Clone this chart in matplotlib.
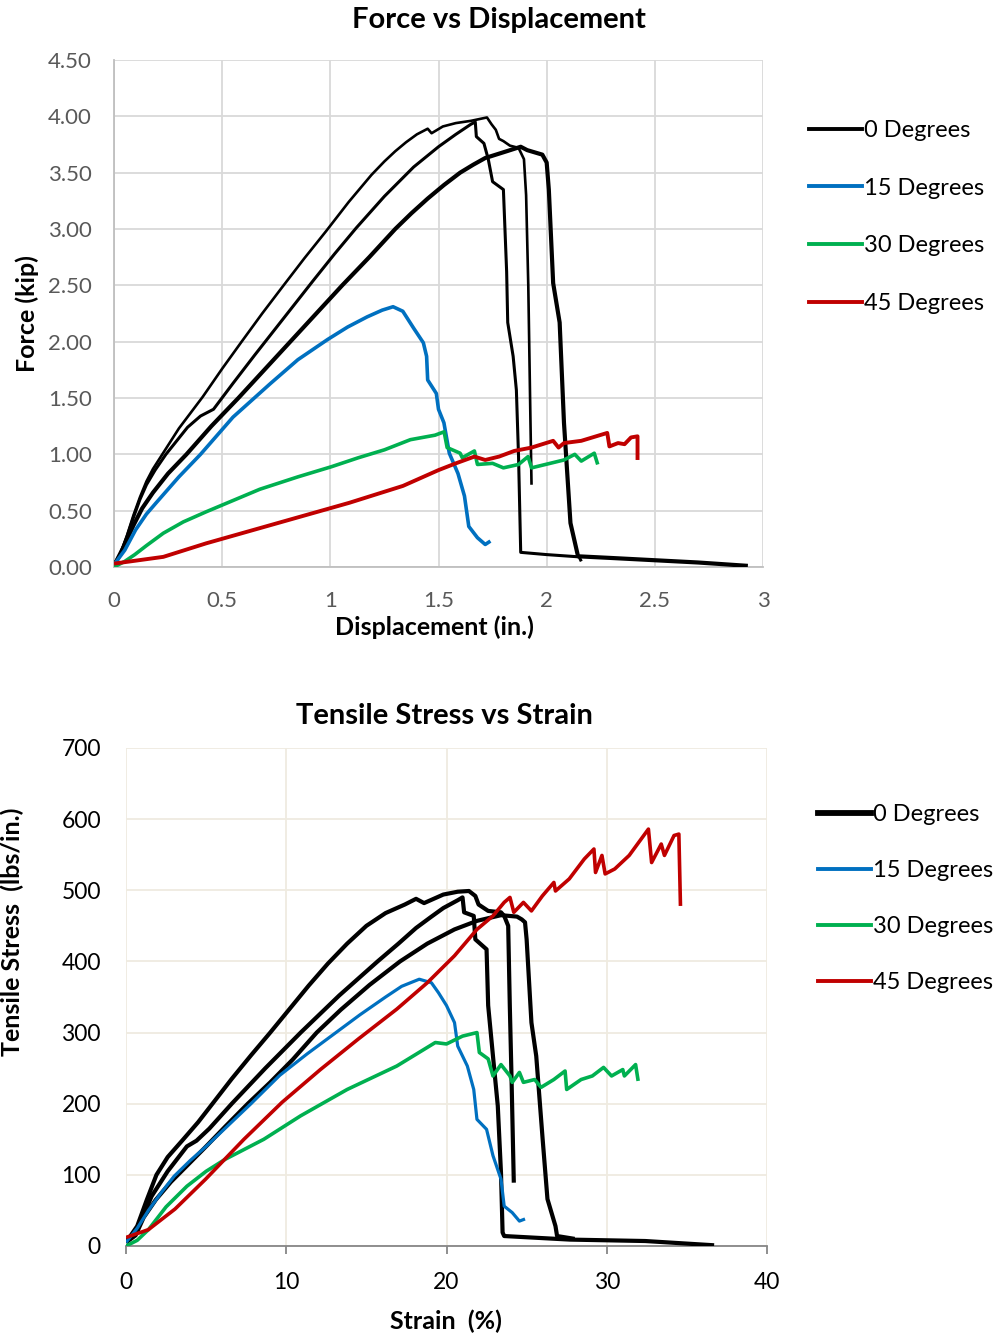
import matplotlib
matplotlib.use("Agg")
import matplotlib.pyplot as plt
from matplotlib.lines import Line2D

plt.rcParams['font.family'] = ['Lato', 'DejaVu Sans']

# ---------------- Force vs Displacement data ----------------
f0a_x = [0, 0.03, 0.06, 0.09, 0.12, 0.15, 0.18, 0.22, 0.30, 0.41, 0.50, 0.59, 0.685, 0.78, 0.88, 0.98, 1.085, 1.19, 1.25, 1.30, 1.35, 1.40, 1.45, 1.468, 1.52, 1.58, 1.65, 1.724,
         1.745, 1.765, 1.78, 1.80, 1.83, 1.87, 1.895, 1.905, 1.915, 1.925, 1.93]
f0a_y = [0.02, 0.12, 0.28, 0.46, 0.62, 0.76, 0.87, 0.99, 1.23, 1.51, 1.76, 2.00, 2.25, 2.49, 2.74, 2.98, 3.24, 3.48, 3.60, 3.69, 3.77, 3.84, 3.89, 3.85, 3.91, 3.94, 3.96, 3.99,
         3.93, 3.88, 3.80, 3.78, 3.74, 3.72, 3.62, 3.30, 2.50, 1.30, 0.73]
f0b_x = [0, 0.03, 0.06, 0.09, 0.12, 0.15, 0.19, 0.24, 0.29, 0.34, 0.40, 0.46, 0.55, 0.65, 0.74, 0.83, 0.92, 1.02, 1.12, 1.25, 1.385, 1.50, 1.58, 1.65, 1.67,
         1.675, 1.71, 1.73, 1.75, 1.80, 1.815, 1.82, 1.845, 1.86, 1.87, 1.88, 2.00, 2.15, 2.16]
f0b_y = [0.02, 0.12, 0.27, 0.44, 0.60, 0.73, 0.86, 1.00, 1.12, 1.24, 1.34, 1.40, 1.63, 1.88, 2.10, 2.32, 2.54, 2.78, 3.01, 3.29, 3.55, 3.73, 3.84, 3.93, 3.95,
         3.82, 3.76, 3.62, 3.42, 3.35, 2.62, 2.17, 1.87, 1.57, 0.98, 0.13, 0.11, 0.09, 0.05]
f0c_x = [0, 0.045, 0.09, 0.13, 0.18, 0.25, 0.335, 0.45, 0.575, 0.695, 0.815, 0.935, 1.055, 1.18, 1.30, 1.375, 1.45, 1.525, 1.60, 1.66, 1.716, 1.815, 1.88, 1.91, 1.98,
         2.00, 2.01, 2.03, 2.06, 2.08, 2.11, 2.145, 2.3, 2.5, 2.7, 2.93]
f0c_y = [0.01, 0.18, 0.37, 0.52, 0.66, 0.83, 1.00, 1.25, 1.50, 1.75, 2.00, 2.25, 2.50, 2.75, 3.00, 3.14, 3.27, 3.39, 3.50, 3.57, 3.63, 3.69, 3.73, 3.70, 3.66,
         3.59, 3.35, 2.52, 2.17, 1.28, 0.39, 0.095, 0.08, 0.06, 0.04, 0.01]
f15_x = [0, 0.05, 0.10, 0.15, 0.195, 0.30, 0.40, 0.55, 0.724, 0.85, 0.988, 1.08, 1.17, 1.24, 1.29, 1.335, 1.385, 1.43, 1.445, 1.45, 1.49, 1.50, 1.525, 1.55, 1.59, 1.62, 1.64, 1.68, 1.716, 1.74]
f15_y = [0.02, 0.15, 0.33, 0.47, 0.57, 0.80, 1.00, 1.33, 1.63, 1.84, 2.02, 2.13, 2.22, 2.28, 2.31, 2.27, 2.12, 1.99, 1.87, 1.66, 1.54, 1.40, 1.28, 1.01, 0.83, 0.63, 0.36, 0.26, 0.20, 0.23]
f30_x = [0, 0.05, 0.096, 0.15, 0.228, 0.32, 0.426, 0.55, 0.674, 0.85, 1.005, 1.13, 1.25, 1.37, 1.484, 1.526, 1.54, 1.60, 1.61, 1.666, 1.68, 1.75, 1.80, 1.87, 1.914, 1.93, 2.08, 2.13, 2.16, 2.22, 2.236]
f30_y = [0.00, 0.05, 0.11, 0.19, 0.30, 0.40, 0.49, 0.59, 0.69, 0.80, 0.89, 0.97, 1.04, 1.13, 1.17, 1.20, 1.06, 1.01, 0.97, 1.03, 0.91, 0.92, 0.88, 0.91, 0.98, 0.88, 0.95, 1.00, 0.94, 1.01, 0.91]
f45_x = [0, 0.228, 0.426, 0.757, 1.088, 1.336, 1.50, 1.58, 1.666, 1.716, 1.78, 1.85, 1.93, 2.03, 2.055, 2.08, 2.16, 2.28, 2.29, 2.33, 2.36, 2.39, 2.42, 2.42]
f45_y = [0.03, 0.09, 0.21, 0.39, 0.57, 0.72, 0.86, 0.92, 0.98, 0.95, 0.98, 1.03, 1.06, 1.12, 1.06, 1.10, 1.12, 1.19, 1.07, 1.10, 1.09, 1.15, 1.16, 0.95]

# ---------------- Tensile Stress vs Strain data ----------------
s0a_x = [0, 0.7, 1.3, 1.9, 2.6, 3.5, 4.5, 5.5, 6.6, 7.8, 9.0, 10.2, 11.4, 12.6, 13.8, 15.0, 16.2, 17.4, 18.1, 18.6, 19.8, 20.7, 21.4, 21.8, 22.0, 22.6, 23.4,
         23.6, 23.85, 23.95, 24.05, 24.2]
s0a_y = [5, 28, 65, 100, 125, 148, 174, 203, 235, 268, 300, 333, 366, 397, 425, 450, 468, 480, 488, 482, 494, 498, 499, 492, 480, 471, 469,
         464, 450, 338, 244, 89]
s0b_x = [0, 0.8, 1.6, 2.6, 3.8, 4.4, 5.2, 6.6, 8.7, 10.9, 13.3, 15.7, 17.0, 18.1, 19.0, 19.8, 20.7, 21.0,
         21.1, 21.7, 21.8, 22.5, 22.6, 22.9, 23.2, 23.4, 23.5, 23.6, 27.7, 32.4, 36.7]
s0b_y = [5, 28, 70, 105, 140, 148, 165, 200, 250, 300, 352, 400, 425, 447, 462, 475, 486, 490,
         469, 464, 431, 417, 338, 267, 197, 103, 19, 14, 9, 7, 1]
s0c_x = [0, 0.6, 1.1, 1.86, 2.8, 3.77, 5.0, 6.2, 7.6, 9.0, 10.4, 11.9, 13.4, 15.2, 17.1, 18.8, 20.5, 21.9, 23.4, 24.4, 24.7,
         24.9, 25.0, 25.3, 25.6, 26.0, 26.3, 26.8, 26.9, 28.0]
s0c_y = [5, 15, 40, 65, 90, 112, 140, 168, 200, 230, 262, 300, 332, 367, 400, 425, 445, 457, 465, 463, 459,
         455, 431, 314, 267, 150, 66, 28, 14, 10]
s15_x = [0, 0.7, 1.4, 2.2, 3.0, 4.0, 5.0, 6.4, 7.8, 9.6, 11.3, 13.1, 14.6, 16.2, 17.2, 18.3, 19.06, 19.5, 20.0, 20.5, 20.7, 21.3, 21.7, 21.9, 22.5, 22.9, 23.4, 23.6, 24.1, 24.55, 24.9]
s15_y = [5, 25, 50, 75, 98, 120, 140, 170, 200, 240, 270, 300, 325, 350, 365, 375, 370, 356, 338, 314, 281, 253, 220, 178, 164, 127, 94, 56, 47, 35, 38]
s30_x = [0, 0.7, 1.4, 2.5, 3.8, 5.0, 6.2, 8.6, 10.9, 13.8, 16.9, 19.3, 20.0, 21.0, 21.9, 22.05, 22.6, 22.9, 23.4, 23.96, 24.1, 24.55, 24.8, 25.5, 25.9, 26.7, 27.4, 27.5, 28.4, 29.1, 29.8, 30.3, 31.0, 31.1, 31.8, 31.96]
s30_y = [0, 8, 23, 55, 84, 105, 122, 150, 183, 220, 253, 286, 284, 295, 300, 272, 263, 239, 255, 239, 230, 244, 230, 234, 223, 234, 246, 220, 234, 239, 251, 239, 248, 239, 255, 232]
s45_x = [0, 1.4, 3.06, 4.97, 7.36, 9.74, 12.13, 14.5, 16.9, 18.8, 20.5, 21.9, 22.9, 23.6, 23.96, 24.2, 24.8, 25.3, 25.98, 26.7, 26.8, 27.66, 28.6, 29.2, 29.3, 29.7, 29.9, 30.5, 31.4, 32.6, 32.8, 33.4, 33.6, 34.2, 34.5, 34.6]
s45_y = [12, 23, 52, 94, 150, 202, 248, 291, 333, 370, 408, 445, 464, 483, 490, 469, 483, 471, 492, 511, 499, 516, 544, 558, 525, 549, 523, 530, 549, 586, 539, 565, 549, 577, 579, 478]

legend_labels = ['0 Degrees', '15 Degrees', '30 Degrees', '45 Degrees']
top_yticks = [0.0, 0.5, 1.0, 1.5, 2.0, 2.5, 3.0, 3.5, 4.0, 4.5]
top_xticks = [0, 0.5, 1, 1.5, 2, 2.5, 3]
bot_yticks = [0, 100, 200, 300, 400, 500, 600, 700]
bot_xticks = [0, 10, 20, 30, 40]

BLACK = '#000000'
BLUE = '#0070c0'
GREEN = '#00b050'
RED = '#c00000'

W, H = 1002, 1337
fig = plt.figure(figsize=(W / 100, H / 100), dpi=100)

def fx(px):
    return px / W

def fy(py):
    return 1 - py / H

kw = dict(solid_joinstyle='round', solid_capstyle='butt')

# ---------------- top chart ----------------
ax1 = fig.add_axes([fx(114), fy(567), fx(763) - fx(114), fy(60) - fy(567)])
ax1.plot(f0a_x, f0a_y, color=BLACK, lw=1.9, zorder=3, **kw)
ax1.plot(f0b_x, f0b_y, color=BLACK, lw=2.2, zorder=3, **kw)
ax1.plot(f0c_x, f0c_y, color=BLACK, lw=3.0, zorder=3, **kw)
ax1.plot(f15_x, f15_y, color=BLUE, lw=2.6, zorder=4, **kw)
ax1.plot(f30_x, f30_y, color=GREEN, lw=2.6, zorder=4, **kw)
ax1.plot(f45_x, f45_y, color=RED, lw=2.8, zorder=5, **kw)
ax1.set_xlim(0, 3)
ax1.set_ylim(0, 4.5)
ax1.set_xticks(top_xticks)
ax1.set_xticklabels(['0', '0.5', '1', '1.5', '2', '2.5', '3'])
ax1.set_yticks(top_yticks)
ax1.set_yticklabels([f'{v:.2f}' for v in top_yticks])
ax1.grid(True, color='#d9d9d9', lw=1.3)
ax1.set_axisbelow(True)
for s in ['top', 'right']:
    ax1.spines[s].set_visible(False)
for s in ['left', 'bottom']:
    ax1.spines[s].set_color('#bfbfbf')
    ax1.spines[s].set_linewidth(1.3)
ax1.tick_params(length=0, labelsize=16, labelcolor='#595959')
ax1.tick_params(axis='y', pad=16)
ax1.tick_params(axis='x', pad=17)

fig.text(fx(499), fy(20), 'Force vs Displacement', fontsize=21, fontweight='bold', ha='center', va='center')
fig.text(fx(434), fy(627), 'Displacement (in.)', fontsize=18, fontweight='bold', ha='center', va='center')
fig.text(fx(27), fy(314), 'Force (kip)', fontsize=18, fontweight='bold', ha='center', va='center', rotation=90)

h1 = [Line2D([], [], color=c, lw=2.8) for c in [BLACK, BLUE, GREEN, RED]]
fig.legend(h1, legend_labels, loc='upper left', bbox_to_anchor=(fx(809), fy(120)),
           frameon=False, fontsize=17, handlelength=2.25, handletextpad=0.1,
           labelspacing=1.55, borderpad=0, borderaxespad=0)

# ---------------- bottom chart ----------------
ax2 = fig.add_axes([fx(126), fy(1246), fx(767) - fx(126), fy(748) - fy(1246)])
ax2.plot(s0a_x, s0a_y, color=BLACK, lw=3.0, zorder=3, **kw)
ax2.plot(s0b_x, s0b_y, color=BLACK, lw=3.0, zorder=3, **kw)
ax2.plot(s0c_x, s0c_y, color=BLACK, lw=3.0, zorder=3, **kw)
ax2.plot(s15_x, s15_y, color=BLUE, lw=2.3, zorder=4, **kw)
ax2.plot(s30_x, s30_y, color=GREEN, lw=2.6, zorder=4, **kw)
ax2.plot(s45_x, s45_y, color=RED, lw=2.6, zorder=5, **kw)
ax2.set_xlim(0, 40)
ax2.set_ylim(0, 700)
ax2.set_xticks(bot_xticks)
ax2.set_yticks(bot_yticks)
ax2.grid(True, color='#efebe0', lw=1.3)
ax2.set_axisbelow(True)
for s in ['top', 'right', 'left']:
    ax2.spines[s].set_visible(False)
ax2.spines['bottom'].set_color('#868686')
ax2.spines['bottom'].set_linewidth(1.3)
ax2.tick_params(axis='x', length=6, width=1.3, color='#868686', labelsize=16.5, pad=13)
ax2.tick_params(axis='y', length=0, labelsize=16.5, pad=18)

fig.text(fx(444), fy(716), 'Tensile Stress vs Strain', fontsize=21, fontweight='bold', ha='center', va='center')
fig.text(fx(446), fy(1321), 'Strain  (%)', fontsize=18, fontweight='bold', ha='center', va='center')
fig.text(fx(12), fy(932), 'Tensile Stress  (lbs/in.)', fontsize=18, fontweight='bold', ha='center', va='center', rotation=90)

h2 = [Line2D([], [], color=BLACK, lw=4.2)] + [Line2D([], [], color=c, lw=2.8) for c in [BLUE, GREEN, RED]]
fig.legend(h2, legend_labels, loc='upper left', bbox_to_anchor=(fx(818), fy(804)),
           frameon=False, fontsize=17, handlelength=2.25, handletextpad=0.1,
           labelspacing=1.48, borderpad=0, borderaxespad=0)

fig.savefig('out.png', dpi=100)
